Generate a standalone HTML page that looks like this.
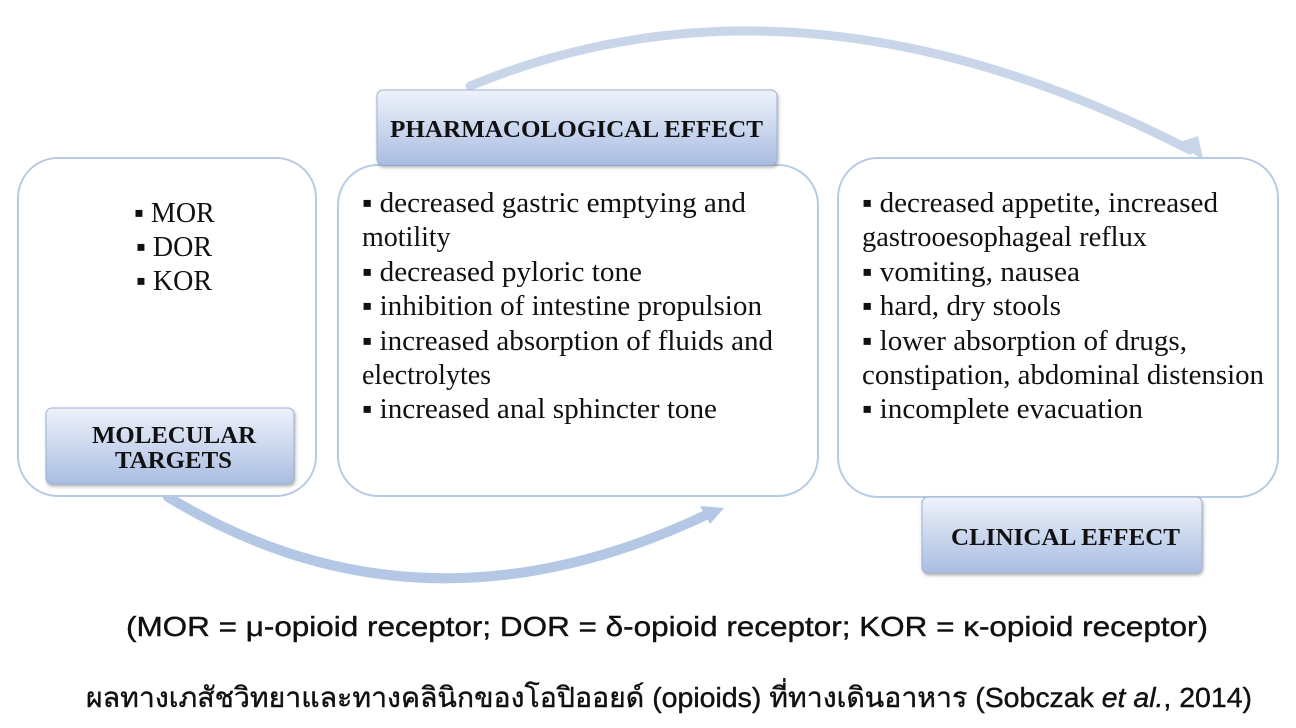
<!DOCTYPE html>
<html><head><meta charset="utf-8"><style>
html,body{margin:0;padding:0;background:#fff;}
svg{display:block;}
.t{font-family:"Liberation Serif",serif;font-size:28px;fill:#111;}
.h{font-family:"Liberation Serif",serif;font-weight:bold;font-size:24px;fill:#111;}
.c{font-family:"Liberation Sans","DejaVu Sans",sans-serif;font-size:28px;fill:#111;stroke:#111;stroke-width:0.4;}
</style></head><body>
<svg width="1296" height="728" viewBox="0 0 1296 728" xmlns="http://www.w3.org/2000/svg">
<defs>
<linearGradient id="g" x1="0" y1="0" x2="0" y2="1">
<stop offset="0" stop-color="#eef2fa"/><stop offset="1" stop-color="#a9bde2"/>
</linearGradient>
<filter id="s" x="-10%" y="-10%" width="120%" height="130%"><feDropShadow dx="1" dy="2" stdDeviation="1.5" flood-color="#666" flood-opacity="0.5"/></filter>
</defs>
<path d="M470 86 Q 800 -50 1190 150" fill="none" stroke="#c9d6ea" stroke-width="9" stroke-linecap="round"/>
<polygon points="1180,142 1204,162 1198,136" fill="#c9d6ea"/>
<path d="M168 497 Q 420 650 706 515" fill="none" stroke="#b4c8e6" stroke-width="10" stroke-linecap="round"/>
<polygon points="700,506 724,508 710,524" fill="#b4c8e6"/>
<rect x="18" y="158" width="298" height="338" rx="40" fill="#fff" stroke="#b8cbe4" stroke-width="2"/>
<rect x="338" y="165" width="480" height="331" rx="40" fill="#fff" stroke="#b8cbe4" stroke-width="2"/>
<rect x="838" y="158" width="440" height="339" rx="40" fill="#fff" stroke="#b8cbe4" stroke-width="2"/>
<rect x="377" y="90" width="400" height="75" rx="6" fill="url(#g)" stroke="#9fb2d4" filter="url(#s)"/>
<text class="h" x="390" y="137" textLength="373" lengthAdjust="spacingAndGlyphs">PHARMACOLOGICAL EFFECT</text>
<rect x="46" y="408" width="248" height="76" rx="6" fill="url(#g)" stroke="#9fb2d4" filter="url(#s)"/>
<text class="h" x="92" y="443" textLength="164" lengthAdjust="spacingAndGlyphs">MOLECULAR</text>
<text class="h" x="115" y="468" textLength="117" lengthAdjust="spacingAndGlyphs">TARGETS</text>
<rect x="922" y="497" width="280" height="76" rx="6" fill="url(#g)" stroke="#9fb2d4" filter="url(#s)"/>
<text class="h" x="951" y="545" textLength="229" lengthAdjust="spacingAndGlyphs">CLINICAL EFFECT</text>
<text class="t" x="134" y="222">▪ MOR</text>
<text class="t" x="136" y="256">▪ DOR</text>
<text class="t" x="136" y="290">▪ KOR</text>
<g lengthAdjust="spacingAndGlyphs">
<text class="t" x="362" y="212" textLength="384" lengthAdjust="spacingAndGlyphs">▪ decreased gastric emptying and</text>
<text class="t" x="362" y="246">motility</text>
<text class="t" x="362" y="281" textLength="280" lengthAdjust="spacingAndGlyphs">▪ decreased pyloric tone</text>
<text class="t" x="362" y="315" textLength="400" lengthAdjust="spacingAndGlyphs">▪ inhibition of intestine propulsion</text>
<text class="t" x="362" y="350" textLength="411" lengthAdjust="spacingAndGlyphs">▪ increased absorption of fluids and</text>
<text class="t" x="362" y="384">electrolytes</text>
<text class="t" x="362" y="418" textLength="355" lengthAdjust="spacingAndGlyphs">▪ increased anal sphincter tone</text>
<text class="t" x="862" y="212" textLength="356" lengthAdjust="spacingAndGlyphs">▪ decreased appetite, increased</text>
<text class="t" x="862" y="246" textLength="285" lengthAdjust="spacingAndGlyphs">gastrooesophageal reflux</text>
<text class="t" x="862" y="281" textLength="218" lengthAdjust="spacingAndGlyphs">▪ vomiting, nausea</text>
<text class="t" x="862" y="315" textLength="199" lengthAdjust="spacingAndGlyphs">▪ hard, dry stools</text>
<text class="t" x="862" y="350" textLength="325" lengthAdjust="spacingAndGlyphs">▪ lower absorption of drugs,</text>
<text class="t" x="862" y="384" textLength="402" lengthAdjust="spacingAndGlyphs">constipation, abdominal distension</text>
<text class="t" x="862" y="418" textLength="281" lengthAdjust="spacingAndGlyphs">▪ incomplete evacuation</text>
</g>
<text class="c" x="126" y="636" textLength="1082" lengthAdjust="spacingAndGlyphs">(MOR = μ-opioid receptor; DOR = δ-opioid receptor; KOR = κ-opioid receptor)</text>
<text class="c" x="86" y="707" textLength="1166" lengthAdjust="spacingAndGlyphs">ผลทางเภสัชวิทยาและทางคลินิกของโอปิออยด์ (opioids) ที่ทางเดินอาหาร (Sobczak <tspan font-style="italic">et al.</tspan>, 2014)</text>
</svg>
</body></html>
